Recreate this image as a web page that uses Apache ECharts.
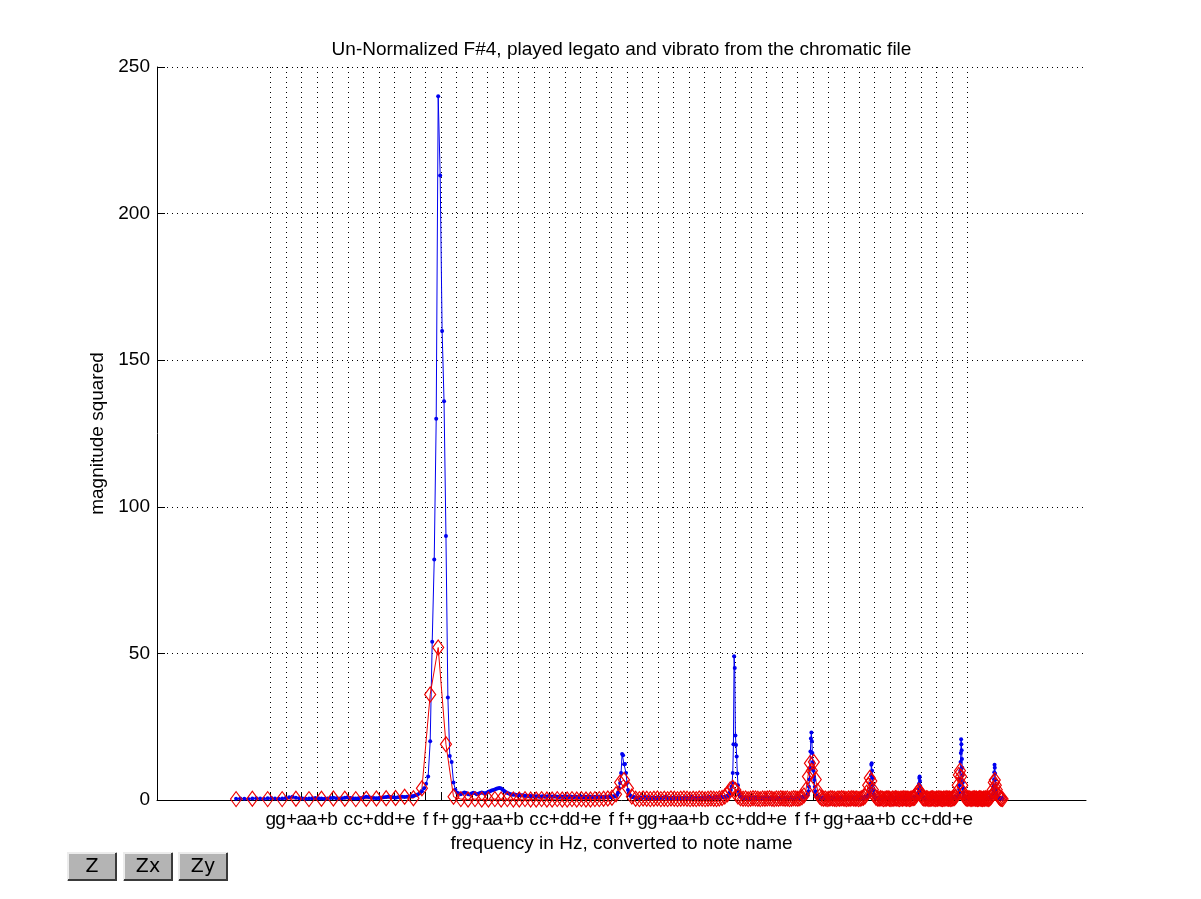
<!DOCTYPE html>
<html><head><meta charset="utf-8">
<script src="https://cdn.jsdelivr.net/npm/echarts@6/dist/echarts.min.js"></script>
<style>html,body{margin:0;padding:0;background:#fff}#c{width:1201px;height:899px}</style>
</head><body><div id="c"></div>
<script>
// ---- data ----
const noteNames = ['g','g+','a','a+','b','c','c+','d','d+','e','f','f+'];
const firstTickMidi = 55;   // G3
const lastTickMidi = 100;   // E7
const titleText = 'Un-Normalized F#4, played legato and vibrato from the chromatic file';
const xName = 'frequency in Hz, converted to note name';
const yName = 'magnitude squared';
const buttonLabels = ['Z', 'Zx', 'Zy'];

// red: coarse FFT (bin width 44100/4096 Hz), first bin 16
const redStartBin = 16;
const redBinHz = 44100 / 4096;
const redMag = [
 0.3,0.4,0.3,0.3,0.4,0.3,0.4,0.5,0.4,0.3, // 16-25
 0.4,0.5,0.6,0.7,1.1,0.6,4.0,36,52,19,    // 26-35
 1.1,0.3,0.2,0.3,0.2,0.2,0.3,0.2,0.3,0.2, // 36-45
 0.2,0.3,0.2,0.2,0.3,0.2,0.2,0.3,0.2,0.2, // 46-55
 0.3,0.2,0.3,0.2,0.2,0.3,0.3,0.4,0.5,0.8, // 56-65
 2.0,6.0,6.8,4.0,1.2,0.4,0.3,0.5,0.4,0.3, // 66-75
 0.4,0.5,0.3,0.4,0.3,0.5,0.4,0.3,0.4,0.5, // 76-85
 0.4,0.3,0.4,0.3,0.5,0.4,0.3,0.4,0.5,0.4, // 86-95
 0.3,0.5,0.7,1.2,2.0,3.6,4.2,3.4,1.2,0.6, // 96-105
 0.4,0.5,0.3,0.4,0.6,0.5,0.4,0.3,0.5,0.4, // 106-115
 0.5,0.6,0.4,0.3,0.5,0.4,0.6,0.5,0.4,0.5, // 116-125
 0.3,0.4,0.6,0.5,0.4,0.6,0.9,1.5,3.5,8.0, // 126-135
 12.5,10,13,7,3,1.2,0.6,0.4,0.5,0.3,      // 136-145
 0.4,0.6,0.5,0.4,0.3,0.5,0.4,0.6,0.5,0.4, // 146-155
 0.3,0.5,0.4,0.6,0.5,0.4,0.5,0.3,0.4,0.6, // 156-165
 0.8,1.2,2.5,5.0,7.5,6.5,3.5,1.5,0.8,0.5, // 166-175
 0.4,0.6,0.5,0.3,0.4,0.5,0.6,0.4,0.3,0.5, // 176-185
 0.4,0.6,0.5,0.4,0.3,0.5,0.4,0.6,0.5,0.4, // 186-195
 0.5,0.3,0.4,0.6,0.7,0.8,1.5,2.5,3.2,2.8, // 196-205
 1.6,0.8,0.5,0.4,0.6,0.5,0.3,0.4,0.5,0.6, // 206-215
 0.4,0.3,0.5,0.4,0.6,0.5,0.4,0.3,0.5,0.4, // 216-225
 0.6,0.5,0.4,0.5,0.3,0.4,0.6,0.7,1.0,2.5, // 226-235
 5.0,8.5,10,8,5,2.5,1.2,0.7,0.5,0.4,      // 236-245
 0.6,0.5,0.3,0.4,0.5,0.6,0.4,0.5,0.3,0.4, // 246-255
 0.6,0.5,0.4,0.3,0.5,0.4,0.6,0.5,0.4,0.3, // 256-265
 0.6,0.9,1.5,3.5,6.0,6.8,5.0,3.5,2.0,1.2, // 266-275
 0.8,0.5,0.4,0.3                          // 276-279
];

// blue: fine FFT (bin width 44100/16384 Hz), first bin 64
const blueStartBin = 64;
const blueBinHz = 44100 / 16384;
const blueMag = [
 0.4,0.5,0.4,0.3,0.5,0.6,0.5,0.4,0.6,0.7, // 64
 0.5,0.4,0.5,0.7,0.9,1.1,0.8,0.6,0.5,0.4, // 74
 0.5,0.6,0.7,0.6,0.5,0.4,0.5,0.7,0.8,0.6, // 84
 0.5,0.6,0.8,0.9,0.7,0.6,0.5,0.6,0.7,0.9, // 94
 1.1,1.0,0.8,0.7,0.6,0.7,0.8,0.9,1.0,1.2, // 104
 1.0,0.9,0.8,0.9,1.0,1.1,1.0,1.1,1.2,1.3, // 114
 1.4,1.6,1.9,2.3,3.0,4.0,5.5,8,20,54,     // 124
 82,130,240,213,160,136,90,35,15,13,      // 134
 6,3.5,2.5,2.2,2.0,2.3,2.6,2.4,2.0,1.9,   // 144
 2.2,2.5,2.3,2.0,2.1,2.4,2.6,2.4,2.2,2.5, // 154
 2.8,3.0,3.2,3.4,3.6,3.8,4.0,4.1,3.9,3.5, // 164
 3.1,2.7,2.4,2.2,2.0,1.9,1.8,1.9,1.7,1.6, // 174
 1.7,1.5,1.6,1.5,1.4,1.5,1.4,1.3,1.4,1.3, // 184
 1.2,1.3,1.2,1.3,1.2,1.1,1.2,1.3,1.2,1.1, // 194
 1.2,1.3,1.4,1.2,1.1,1.2,1.3,1.2,1.1,1.0, // 204
 1.1,1.2,1.1,1.0,1.2,1.3,1.1,1.0,1.1,1.2, // 214
 1.0,0.9,1.1,1.2,1.0,0.9,1.0,1.1,1.2,1.0, // 224
 0.9,1.0,1.1,0.9,1.0,1.2,1.1,1.0,0.9,1.0, // 234
 1.1,1.0,0.9,1.1,1.2,1.0,0.9,1.0,1.1,1.0, // 244
 0.9,1.0,1.1,1.2,1.1,1.0,1.1,1.2,1.3,1.2, // 254
 1.4,1.7,2.5,4.0,5.8,9.2,15.7,15.3,12.2,12.3, // 264
 9.2,5.8,3.4,2.2,1.6,1.3,1.1,1.0,0.9,0.9, // 274
 0.8,0.8,0.7,0.8,0.9,0.8,0.7,0.8,0.9,1.0, // 284
 0.9,0.8,0.7,0.8,0.9,0.8,0.7,0.6,0.7,0.8, // 294
 0.9,0.8,0.7,0.8,0.7,0.6,0.7,0.8,0.9,0.8, // 304
 0.7,0.8,0.9,1.0,0.9,0.8,0.7,0.8,0.7,0.6, // 314
 0.7,0.8,0.7,0.8,0.9,0.8,0.7,0.6,0.7,0.8, // 324
 0.8,0.9,0.8,0.7,0.6,0.7,0.8,0.9,0.8,0.7, // 334
 0.8,0.7,0.6,0.7,0.8,0.9,1.0,0.9,0.8,0.7, // 344
 0.7,0.8,0.9,0.8,0.7,0.6,0.7,0.8,0.7,0.8, // 354
 0.9,0.8,0.7,0.8,0.9,0.8,0.7,0.8,0.9,1.0, // 364
 0.9,0.8,0.7,0.8,0.7,0.8,0.9,0.8,0.9,1.0, // 374
 0.9,0.8,0.9,1.0,0.9,0.8,0.9,1.0,1.1,1.0, // 384
 0.9,1.0,1.1,1.0,1.1,1.2,1.3,1.5,1.8,2.2, // 394
 2.8,3.4,4.5,5.8,9.2,19,49,45,22,18.8,    // 404
 14.8,9.0,5.0,3.0,2.0,1.4,1.1,1.0,0.9,0.8, // 414
 0.8,0.7,0.8,0.9,0.8,0.7,0.6,0.7,0.8,0.7, // 424
 0.8,0.9,0.8,0.7,0.8,0.7,0.6,0.7,0.8,0.9, // 434
 0.8,0.7,0.8,0.9,0.8,0.7,0.6,0.7,0.8,0.7, // 444
 0.6,0.7,0.8,0.7,0.8,0.9,0.8,0.7,0.6,0.7, // 454
 0.8,0.9,0.8,0.7,0.6,0.7,0.8,0.7,0.8,0.9, // 464
 0.8,0.7,0.8,0.7,0.6,0.7,0.8,0.9,0.8,0.7, // 474
 0.6,0.7,0.8,0.7,0.8,0.9,0.8,0.7,0.6,0.7, // 484
 0.8,0.7,0.6,0.7,0.8,0.9,0.8,0.7,0.8,0.7, // 494
 0.6,0.7,0.8,0.9,0.8,0.7,0.6,0.7,0.8,0.7, // 504
 0.8,0.9,0.8,0.7,0.8,0.7,0.6,0.7,0.8,0.9, // 514
 0.8,0.7,0.8,0.9,1.0,0.9,0.8,0.9,1.0,1.1, // 524
 1.0,1.1,1.2,1.3,1.5,1.8,2.2,3.0,4.5,7.0, // 534
 11,16.5,21,23,20,16,13,10,8,6.8,         // 544
 4.5,3.0,2.0,1.5,1.2,1.0,0.9,0.8,0.7,0.8, // 554
 0.7,0.6,0.7,0.8,0.7,0.6,0.7,0.8,0.9,0.8, // 564
 0.7,0.6,0.7,0.8,0.7,0.8,0.9,0.8,0.7,0.6, // 574
 0.7,0.8,0.7,0.6,0.7,0.8,0.9,0.8,0.7,0.8, // 584
 0.7,0.6,0.7,0.8,0.7,0.6,0.7,0.8,0.7,0.8, // 594
 0.9,0.8,0.7,0.6,0.7,0.8,0.7,0.8,0.9,0.8, // 604
 0.7,0.6,0.7,0.8,0.7,0.6,0.7,0.8,0.9,0.8, // 614
 0.7,0.8,0.7,0.6,0.7,0.8,0.7,0.6,0.7,0.8, // 624
 0.9,0.8,0.7,0.8,0.7,0.6,0.7,0.8,0.9,0.8, // 634
 0.7,0.6,0.7,0.8,0.7,0.8,0.9,0.8,0.7,0.6, // 644
 0.7,0.8,0.7,0.6,0.7,0.8,0.9,0.8,0.7,0.8, // 654
 0.7,0.8,0.9,0.8,0.9,1.0,0.9,1.0,1.1,1.0, // 664
 1.1,1.2,1.3,1.5,1.8,2.2,3.0,4.0,5.5,8.5, // 674
 12,12.5,10,7.5,5.0,3.2,2.0,1.4,1.1,0.9,  // 684
 0.8,0.7,0.8,0.7,0.6,0.7,0.8,0.7,0.6,0.7, // 694
 0.8,0.9,0.8,0.7,0.6,0.7,0.8,0.7,0.8,0.9, // 704
 0.8,0.7,0.6,0.7,0.8,0.7,0.6,0.7,0.8,0.9, // 714
 0.8,0.7,0.8,0.7,0.6,0.7,0.8,0.9,0.8,0.7, // 724
 0.6,0.7,0.8,0.7,0.8,0.9,0.8,0.7,0.6,0.7, // 734
 0.8,0.7,0.6,0.7,0.8,0.9,0.8,0.7,0.8,0.7, // 744
 0.6,0.7,0.8,0.9,0.8,0.7,0.6,0.7,0.8,0.7, // 754
 0.8,0.9,0.8,0.7,0.6,0.7,0.8,0.7,0.8,0.9, // 764
 0.8,0.7,0.6,0.7,0.8,0.7,0.6,0.7,0.8,0.9, // 774
 0.8,0.7,0.8,0.7,0.6,0.7,0.8,0.9,0.8,0.7, // 784
 0.6,0.7,0.8,0.7,0.8,0.9,0.8,0.7,0.8,0.9, // 794
 0.8,0.9,1.0,0.9,1.0,1.1,1.0,1.1,1.3,1.6, // 804
 2.0,2.6,3.8,5.5,7.5,8.0,6.5,4.8,3.4,2.3, // 814
 1.6,1.2,1.0,0.9,0.8,0.7,0.8,0.7,0.6,0.7, // 824
 0.8,0.7,0.6,0.7,0.8,0.9,0.8,0.7,0.6,0.7, // 834
 0.8,0.7,0.8,0.9,0.8,0.7,0.6,0.7,0.8,0.7, // 844
 0.6,0.7,0.8,0.9,0.8,0.7,0.8,0.7,0.6,0.7, // 854
 0.8,0.7,0.6,0.7,0.8,0.9,0.8,0.7,0.8,0.7, // 864
 0.6,0.7,0.8,0.9,0.8,0.7,0.6,0.7,0.8,0.7, // 874
 0.8,0.9,0.8,0.7,0.6,0.7,0.8,0.7,0.8,0.9, // 884
 0.8,0.7,0.6,0.7,0.8,0.7,0.6,0.7,0.8,0.9, // 894
 0.8,0.7,0.8,0.7,0.6,0.7,0.8,0.9,0.8,0.7, // 904
 0.6,0.7,0.8,0.7,0.8,0.9,0.8,0.7,0.8,0.9, // 914
 0.8,0.7,0.6,0.7,0.8,0.9,0.8,0.7,0.8,0.9, // 924
 1.0,0.9,0.8,0.9,1.0,1.1,1.0,0.9,1.0,1.1, // 934
 1.2,1.1,1.3,1.5,1.8,2.5,3.5,5.0,7.0,10,  // 944
 13,16,20.7,19,17,14,11,8.5,6,4,          // 954
 2.7,1.8,1.3,1.0,0.9,0.8,0.7,0.8,0.7,0.6, // 964
 0.7,0.8,0.9,0.8,0.7,0.6,0.7,0.8,0.7,0.8, // 974
 0.9,0.8,0.7,0.6,0.7,0.8,0.7,0.6,0.7,0.8, // 984
 0.9,0.8,0.7,0.8,0.7,0.6,0.7,0.8,0.9,0.8, // 994
 0.7,0.6,0.7,0.8,0.7,0.8,0.9,0.8,0.7,0.6, // 1004
 0.7,0.8,0.7,0.6,0.7,0.8,0.9,0.8,0.7,0.8, // 1014
 0.7,0.6,0.7,0.8,0.7,0.8,0.9,0.8,0.7,0.6, // 1024
 0.7,0.8,0.9,0.8,0.7,0.8,0.7,0.6,0.7,0.8, // 1034
 0.9,0.8,0.7,0.6,0.7,0.8,0.7,0.8,0.9,0.8, // 1044
 0.7,0.6,0.7,0.8,0.7,0.6,0.7,0.8,0.9,0.8, // 1054
 0.7,0.8,0.7,0.6,0.7,0.8,0.9,1.0,0.9,1.0, // 1064
 1.1,1.2,1.4,1.7,2.2,3.2,4.8,7.0,9.5,12,  // 1074
 11,9,7,5,3.5,2.4,1.6,1.2,1.0,0.9,        // 1084
 0.8,0.7,0.6,0.7,0.8,0.7,0.6,0.7,0.8,0.7, // 1094
 0.6,0.7,0.8,0.7,0.6,0.5,0.6,0.7,0.6,0.5, // 1104
 0.6,0.5,0.4                              // 1114-1116
];

// ---- build ----
const toMidi = f => 69 + 12 * Math.log2(f / 440);
const blueData = blueMag.map((v, i) => [toMidi((blueStartBin + i) * blueBinHz), v]);
const redData = redMag.map((v, i) => [toMidi((redStartBin + i) * redBinHz), v]);

const FONT = '"Liberation Sans", Arial, Helvetica, sans-serif';
const gridLeft = 157, gridRight = 1086, gridTop = 67, gridBottom = 800;
const xMin = 47.66, xMax = 107.64;

const tickValues = [];
for (let m = firstTickMidi; m <= lastTickMidi; m++) tickValues.push(m);
// label positions: the note ticks plus two blank end labels, so that no real
// note label is treated as the axis' first/last label (which may get hidden)
const labelValues = [xMin].concat(tickValues, [xMax]);
const noteLabel = v => {
  const r = Math.round(v);
  if (Math.abs(v - r) > 1e-6 || r < firstTickMidi || r > lastTickMidi) return '';
  return noteNames[((r - firstTickMidi) % 12 + 12) % 12];
};

function makeButton(x, label) {
  const w = 50, h = 29;
  return {
    type: 'group', x: x, y: 852, silent: true,
    children: [
      { type: 'rect', shape: { x: 0, y: 0, width: w, height: h }, style: { fill: '#b4b4b4' } },
      { type: 'polyline', shape: { points: [[1, h - 1], [1, 1], [w - 1, 1]] }, style: { stroke: '#ececec', lineWidth: 2, fill: null } },
      { type: 'polyline', shape: { points: [[1, h - 1], [w - 1, h - 1], [w - 1, 1]] }, style: { stroke: '#3a3a3a', lineWidth: 2, fill: null } },
      { type: 'text', x: w / 2, y: h / 2 + 1, style: { text: label, textAlign: 'center', textVerticalAlign: 'middle', fontSize: 19, fontFamily: '"DejaVu Sans", sans-serif', fill: '#000' } }
    ]
  };
}

const chart = echarts.init(document.getElementById('c'), null, { renderer: 'canvas' });
chart.setOption({
  backgroundColor: '#ffffff',
  animation: false,
  grid: { left: gridLeft, right: 1201 - gridRight, top: gridTop, bottom: 899 - gridBottom, containLabel: false },
  xAxis: {
    type: 'value', min: xMin, max: xMax,
    axisLine: { show: true, onZero: false, lineStyle: { color: '#000', width: 1 } },
    axisTick: { show: true, inside: true, length: 8, customValues: tickValues, lineStyle: { color: '#000' } },
    axisLabel: {
      customValues: labelValues, color: '#000', fontSize: 19, fontFamily: FONT, margin: 10,
      showMinLabel: true, showMaxLabel: true, hideOverlap: false,
      formatter: noteLabel
    },
    splitLine: { show: true, lineStyle: { color: '#000', width: 1, type: [1, 4] } },
    name: xName, nameLocation: 'middle', nameGap: 31,
    nameTextStyle: { color: '#000', fontSize: 19, fontFamily: FONT }
  },
  yAxis: {
    type: 'value', min: 0, max: 250, interval: 50,
    axisLine: { show: true, onZero: false, lineStyle: { color: '#000', width: 1 } },
    axisTick: { show: true, inside: true, length: 8, lineStyle: { color: '#000' } },
    axisLabel: { color: '#000', fontSize: 19, fontFamily: FONT, margin: 7 },
    splitLine: { show: true, lineStyle: { color: '#000', width: 1, type: [1, 4] } },
    name: yName, nameLocation: 'middle', nameGap: 48, nameRotate: 90,
    nameTextStyle: { color: '#000', fontSize: 19, fontFamily: FONT }
  },
  graphic: [
    { type: 'text', x: (gridLeft + gridRight) / 2, y: 50, silent: true,
      style: { text: titleText, textAlign: 'center', textVerticalAlign: 'middle', fontSize: 19, fontFamily: FONT, fill: '#000' } },
    makeButton(67, buttonLabels[0]),
    makeButton(123, buttonLabels[1]),
    makeButton(178, buttonLabels[2])
  ],
  series: [
    {
      type: 'line', data: blueData, silent: true, showAllSymbol: true,
      symbol: 'circle', symbolSize: 4,
      itemStyle: { color: '#0000f0' },
      lineStyle: { color: '#0000f0', width: 1 },
      emphasis: { disabled: true }
    },
    {
      type: 'line', data: redData, silent: true, showAllSymbol: true,
      symbol: 'diamond', symbolSize: [11, 15],
      itemStyle: { color: 'rgba(0,0,0,0)', borderColor: '#ee0000', borderWidth: 1.2 },
      lineStyle: { color: '#ee0000', width: 1 },
      emphasis: { disabled: true }
    }
  ]
});
</script>
</body></html>
